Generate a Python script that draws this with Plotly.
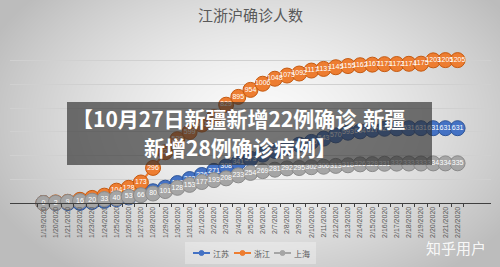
import base64, struct, zlib
import numpy as np
import plotly.graph_objects as go

W, H = 500, 267

dates = ["1/19/2020", "1/20/2020", "1/21/2020", "1/22/2020", "1/23/2020", "1/24/2020",
         "1/25/2020", "1/26/2020", "1/27/2020", "1/28/2020", "1/29/2020", "1/30/2020",
         "1/31/2020", "2/1/2020", "2/2/2020", "2/3/2020", "2/4/2020", "2/5/2020",
         "2/6/2020", "2/7/2020", "2/8/2020", "2/9/2020", "2/10/2020", "2/11/2020",
         "2/12/2020", "2/13/2020", "2/14/2020", "2/15/2020", "2/16/2020", "2/17/2020",
         "2/18/2020", "2/19/2020", "2/20/2020", "2/21/2020", "2/22/2020"]

jiangsu = [0, 0, 0, 1, 9, 18, 33, 47, 70, 99, 129, 168, 202, 236, 271, 308, 341, 373,
           408, 439, 468, 492, 515, 543, 570, 593, 604, 617, 626, 629, 631, 631, 631, 631, 631]
zhejiang = [0, 5, 10, 27, 43, 62, 104, 128, 173, 296, 428, 538, 599, 661, 724, 829, 895, 954,
            1006, 1048, 1075, 1092, 1117, 1131, 1145, 1155, 1162, 1167, 1171, 1172, 1174, 1175,
            1203, 1205, 1205]
shanghai = [0, 2, 9, 16, 20, 33, 40, 53, 66, 80, 101, 128, 153, 177, 193, 208, 233, 254,
            269, 281, 292, 295, 302, 306, 313, 318, 326, 328, 331, 332, 333, 333, 334, 334, 335]

series_names = ["江苏", "浙江", "上海"]
series_values = [jiangsu, zhejiang, shanghai]
series_colors = ["#4472C4", "#ED7D31", "#A5A5A5"]
series_edges = ["#2F5597", "#C55A11", "#8A8A8A"]

title_text = "江浙沪确诊人数"
banner_lines = ["【10月27日新疆新增22例确诊,新疆", "新增28例确诊病例】"]
watermark = "知乎用户"

# --- background vignette image (style only) ---
def png_data_uri(arr):
    h, w = arr.shape[:2]
    raw = b"".join(b"\x00" + arr[r].tobytes() for r in range(h))
    def chunk(t, d):
        c = struct.pack(">I", len(d)) + t + d
        return c + struct.pack(">I", zlib.crc32(t + d) & 0xffffffff)
    png = b"\x89PNG\r\n\x1a\n" + chunk(b"IHDR", struct.pack(">IIBBBBB", w, h, 8, 2, 0, 0, 0)) \
        + chunk(b"IDAT", zlib.compress(raw, 9)) + chunk(b"IEND", b"")
    return "data:image/png;base64," + base64.b64encode(png).decode()

yy, xx = np.mgrid[0:H, 0:W]
r = np.sqrt(((xx - 260) / 290.0) ** 2 + ((yy - 120) / 190.0) ** 2)
v = np.clip(250 - 60 * r ** 1.5, 188, 250).astype(np.uint8)
img = np.stack([v, v, v], axis=-1)
bg_uri = png_data_uri(img)

# plot area in pixels
L, R, T, B = 10, 491, 37, 203
def px(x):
    return (x - L) / (R - L)
def py(y):
    return (B - y) / (B - T)

fig = go.Figure()
for name, vals, col, edge in zip(series_names, series_values, series_colors, series_edges):
    fig.add_trace(go.Scatter(
        x=dates, y=vals, mode="lines+markers+text", name=name, showlegend=False,
        line=dict(color=col, width=2),
        marker=dict(size=15, color=col, line=dict(color=edge, width=1)),
        text=[str(v) for v in vals], textposition="middle center",
        textfont=dict(color="white", size=7, family="Liberation Sans"),
        cliponaxis=False, hoverinfo="skip"))

fig.update_layout(
    width=W, height=H,
    margin=dict(l=L, r=W - R, t=T, b=H - B, autoexpand=False),
    paper_bgcolor="#e6e6e6", plot_bgcolor="rgba(0,0,0,0)",
    font=dict(family="Noto Sans CJK SC", color="#595959"),
    images=[dict(source=bg_uri, xref="paper", yref="paper", x=px(0), y=py(0),
                 sizex=px(W) - px(0), sizey=py(0) - py(H), sizing="stretch",
                 xanchor="left", yanchor="top", layer="below")],
    showlegend=False,
    xaxis=dict(type="category", tickangle=-90, tickfont=dict(size=7, color="#595959",
               family="Liberation Sans"),
               showline=True, linecolor="#404040", linewidth=1, ticks="outside",
               tickson="boundaries", ticklen=3, tickcolor="#404040",
               showgrid=False, automargin=False, fixedrange=True),
    yaxis=dict(range=[0, 1400], dtick=200, showticklabels=False, showgrid=True,
               gridcolor="#d0d0d0", gridwidth=1, zeroline=False, automargin=False,
               fixedrange=True),
)

fig.add_annotation(text=title_text, xref="paper", yref="paper", x=px(250), y=py(15),
                   showarrow=False, font=dict(size=15, color="#595959",
                                              family="Noto Sans CJK SC"),
                   xanchor="center", yanchor="middle")

# compact legend (like the source), built from the series names/colours
fig.add_shape(type="rect", xref="paper", yref="paper", x0=px(185), x1=px(316),
              y0=py(242), y1=py(264), fillcolor="rgba(255,255,255,0.3)",
              line=dict(width=0), layer="below")
leg_x = [193, 234, 274]
ly = py(253)
for name, col, x0 in zip(series_names, series_colors, leg_x):
    fig.add_shape(type="line", xref="paper", yref="paper", x0=px(x0), x1=px(x0 + 17),
                  y0=ly, y1=ly, line=dict(color=col, width=2))
    fig.add_shape(type="circle", xref="paper", yref="paper", x0=px(x0 + 6), x1=px(x0 + 11),
                  y0=py(250.5), y1=py(255.5), fillcolor=col, line=dict(color=col, width=1))
    fig.add_annotation(text=name, xref="paper", yref="paper", x=px(x0 + 18), y=ly,
                       showarrow=False, xanchor="left", yanchor="middle",
                       font=dict(size=8, color="#595959", family="Noto Sans CJK SC"))

fig.add_shape(type="rect", xref="paper", yref="paper", x0=px(67), x1=px(432),
              y0=py(102), y1=py(165), fillcolor="rgba(45,45,45,0.65)",
              line=dict(width=0), layer="above")
fig.add_annotation(text="<b>" + banner_lines[0] + "</b>", xref="paper", yref="paper",
                   x=px(238), y=py(118), showarrow=False, xanchor="center", yanchor="middle",
                   font=dict(size=21, color="white", family="Noto Sans CJK SC"))
fig.add_annotation(text="<b>" + banner_lines[1] + "</b>", xref="paper", yref="paper",
                   x=px(240), y=py(147), showarrow=False, xanchor="center", yanchor="middle",
                   font=dict(size=21, color="white", family="Noto Sans CJK SC"))
fig.add_annotation(text=watermark, xref="paper", yref="paper", x=px(456), y=py(247),
                   showarrow=False, xanchor="center", yanchor="middle",
                   font=dict(size=15, color="rgba(255,255,255,0.9)", family="Noto Sans CJK SC"))

fig.write_html("out.html")
